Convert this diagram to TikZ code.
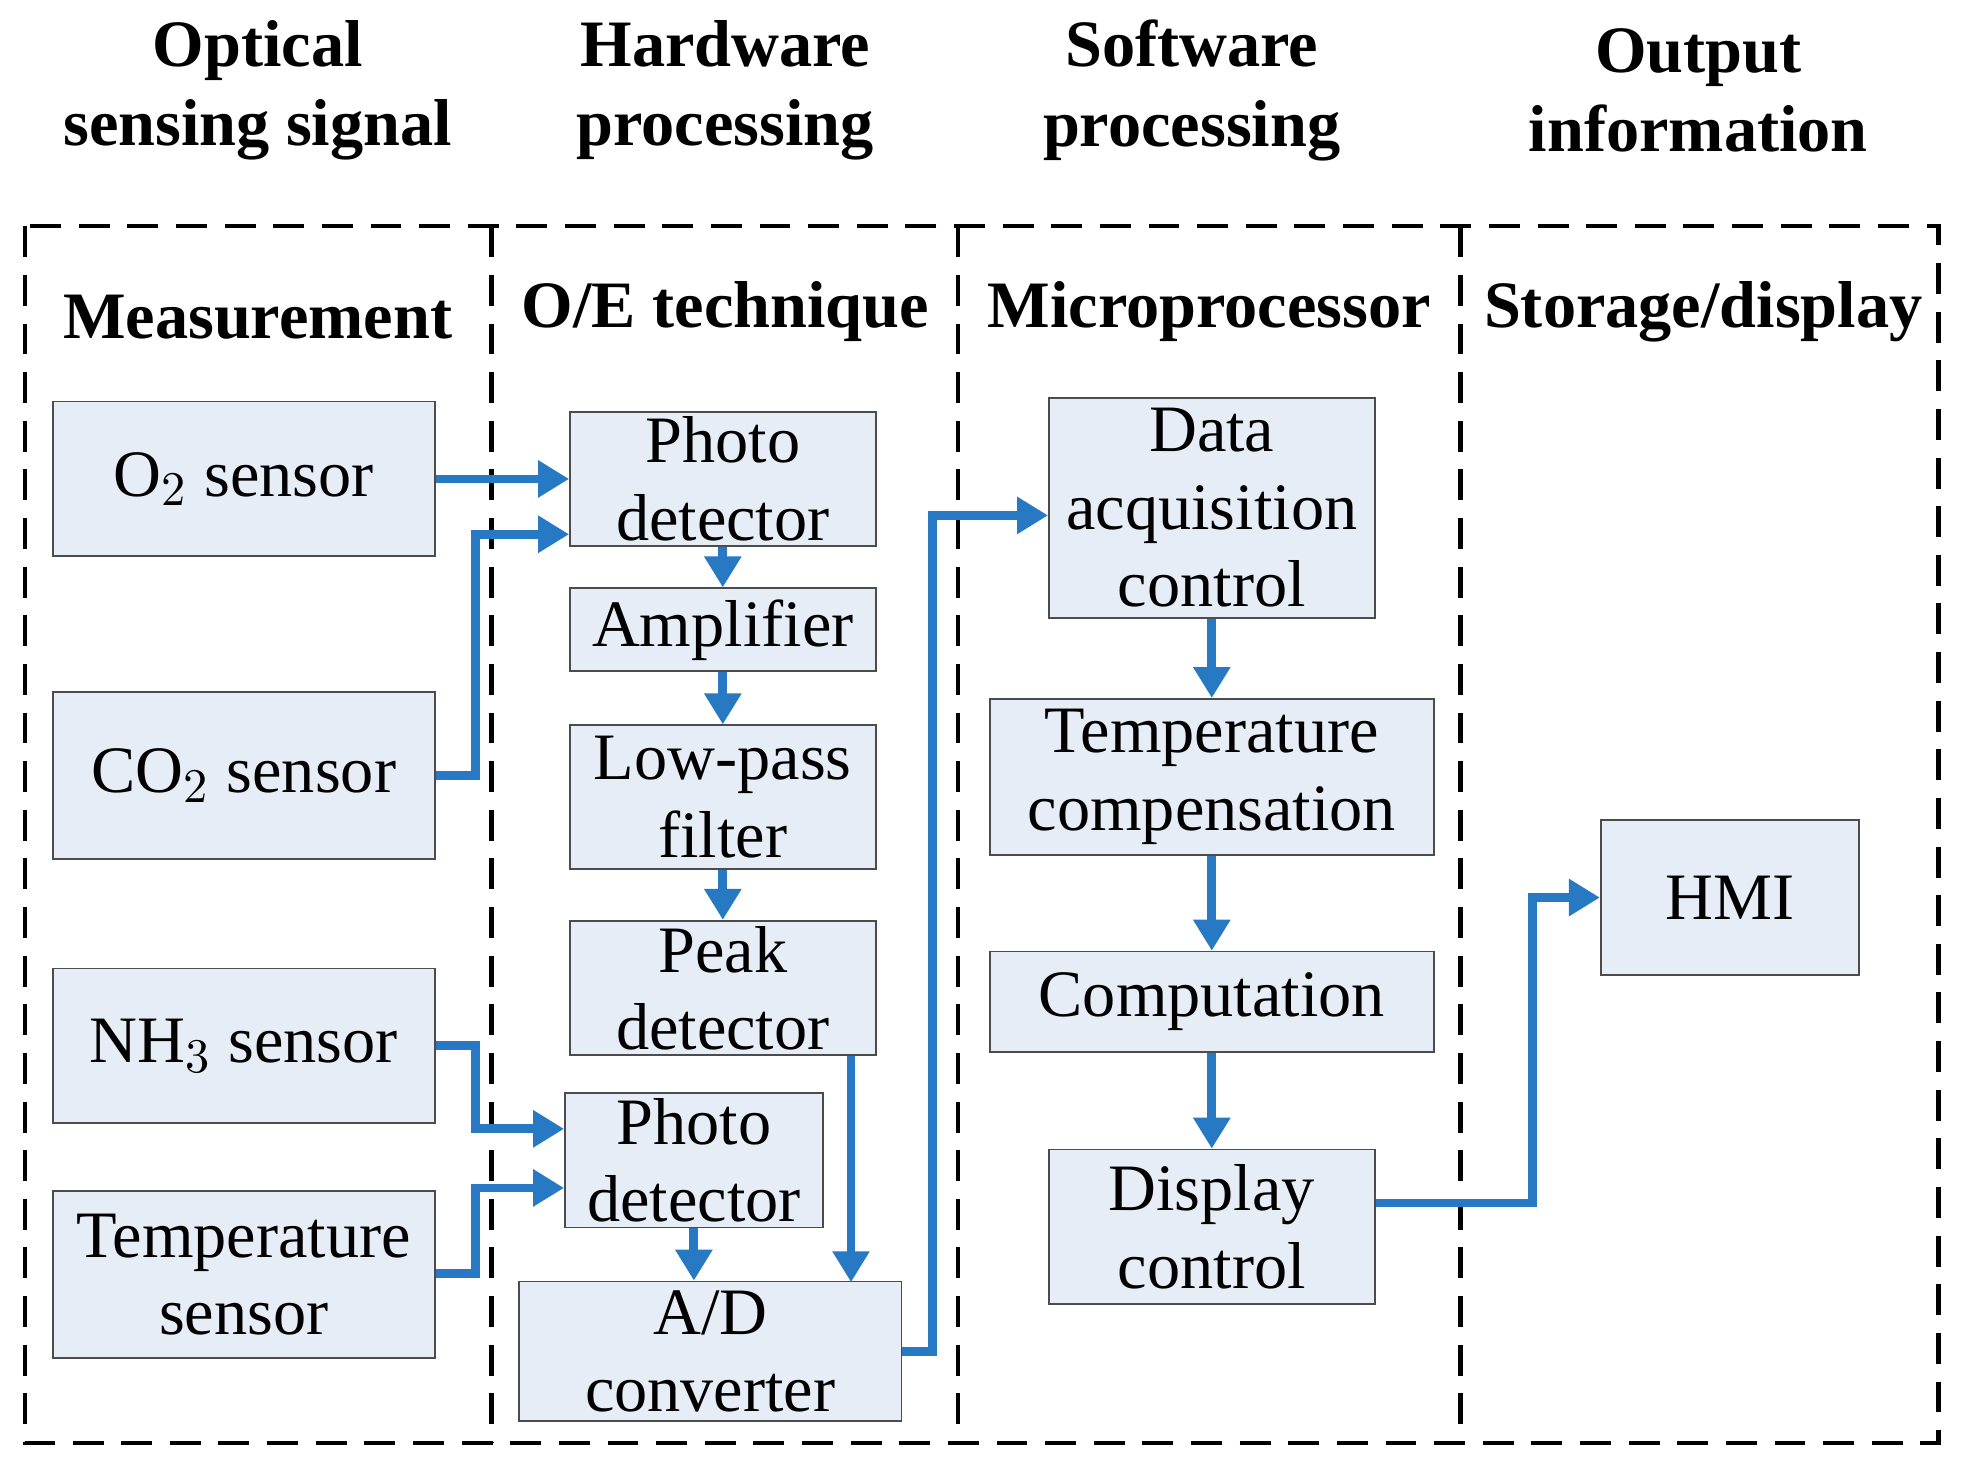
\documentclass[tikz,border=0pt]{standalone}
\usepackage{fontspec}
\setmainfont{Liberation Serif}
\usetikzlibrary{arrows.meta, positioning}
\definecolor{boxfill}{HTML}{E6EDF6}
\definecolor{flow}{HTML}{2779C4}
\begin{document}
\begin{tikzpicture}[x=0.01cm, y=-0.01cm, >={Triangle[length=7pt,width=8pt]}]
            \tikzset{
                block/.style={
                        draw=black!70, fill=boxfill, align=center, inner sep=1pt,
                        font=\fontsize{15pt}{17.5pt}\selectfont, line width=0.4pt
                    },
                head/.style={align=center, font=\bfseries\fontsize{15pt}{18pt}\selectfont},
                flowline/.style={->, flow, line width=2pt},
                frame/.style={line width=1pt, dash pattern=on 7pt off 4pt}
            }
            \useasboundingbox (0,0) rectangle (1560,1160);

            % Column titles
            \node[head] (t1) at (205,72) {Optical\\sensing signal};
            \node[head] (t2) at (577,72) {Hardware\\processing};
            \node[head] (t3) at (948,72) {Software\\processing};
            \node[head] (t4) at (1351,72) {Output\\information};

            % Dashed frame
            \draw[frame] (20,180) rectangle (1542,1148);
            \draw[frame] (391,180) -- (391,1148);
            \draw[frame] (762,180) -- (762,1148);
            \draw[frame] (1162,180) -- (1162,1148);

            \node[head] (s1) at (205,252) {Measurement};
            \node[head] (s2) at (577,248) {O/E technique};
            \node[head] (s3) at (962,248) {Microprocessor};
            \node[head] (s4) at (1355,248) {Storage/display};

            % Sensors
            \node[block, minimum width=3.04cm, minimum height=1.23cm] (o2) at (194,381) {O$_2$ sensor};
            \node[block, minimum width=3.04cm, minimum height=1.33cm] (co2) at (194,617) {CO$_2$ sensor};
            \node[block, minimum width=3.04cm, minimum height=1.23cm] (nh3) at (194,832) {NH$_3$ sensor};
            \node[block, minimum width=3.04cm, minimum height=1.33cm] (temp) at (194,1014) {Temperature\\sensor};

            % Hardware
            \node[block, minimum width=2.43cm, minimum height=1.07cm] (pd1) at (575,381) {Photo\\detector};
            \node[block, minimum width=2.43cm, minimum height=0.66cm] (amp) at (575,501) {Amplifier};
            \node[block, minimum width=2.43cm, minimum height=1.14cm] (lpf) at (575,634) {Low-pass\\filter};
            \node[block, minimum width=2.43cm, minimum height=1.07cm] (peak) at (575,786) {Peak\\detector};
            \node[block, minimum width=2.05cm, minimum height=1.07cm] (pd2) at (552,923) {Photo\\detector};
            \node[block, minimum width=3.04cm, minimum height=1.11cm] (ad) at (565,1075) {A/D\\converter};

            % Software
            \node[block, minimum width=2.59cm, minimum height=1.75cm] (daq) at (964,404) {Data\\acquisition\\control};
            \node[block, minimum width=3.53cm, minimum height=1.24cm] (tc) at (964,618) {Temperature\\compensation};
            \node[block, minimum width=3.53cm, minimum height=0.8cm] (comp) at (964,797) {Computation};
            \node[block, minimum width=2.59cm, minimum height=1.23cm] (disp) at (964,976) {Display\\control};

            % Output
            \node[block, minimum width=2.05cm, minimum height=1.23cm] (hmi) at (1376,714) {HMI};

            % Connections
            \draw[flowline] (o2.east) -- (pd1.west);
            \draw[flowline] (co2.east) -- (378,617) -- (378,425) -- (pd1.west |- 0,425);
            \draw[flowline] (nh3.east) -- (378,832) -- (378,898) -- (pd2.west |- 0,898);
            \draw[flowline] (temp.east |- 0,1013) -- (378,1013) -- (378,945) -- (pd2.west |- 0,945);
            \draw[flowline] (pd1) -- (amp);
            \draw[flowline] (amp) -- (lpf);
            \draw[flowline] (lpf) -- (peak);
            \draw[flowline] (pd2) -- (pd2 |- ad.north);
            \draw[flowline] (677,840) -- (677,1020);
            \draw[flowline] (ad.east) -- (742,1075) -- (742,410) -- (daq.west |- 0,410);
            \draw[flowline] (daq) -- (tc);
            \draw[flowline] (tc) -- (comp);
            \draw[flowline] (comp) -- (disp);
            \draw[flowline] (disp.east |- 0,957) -- (1219,957) -- (1219,714) -- (hmi.west);
        \end{tikzpicture}
\end{document}
